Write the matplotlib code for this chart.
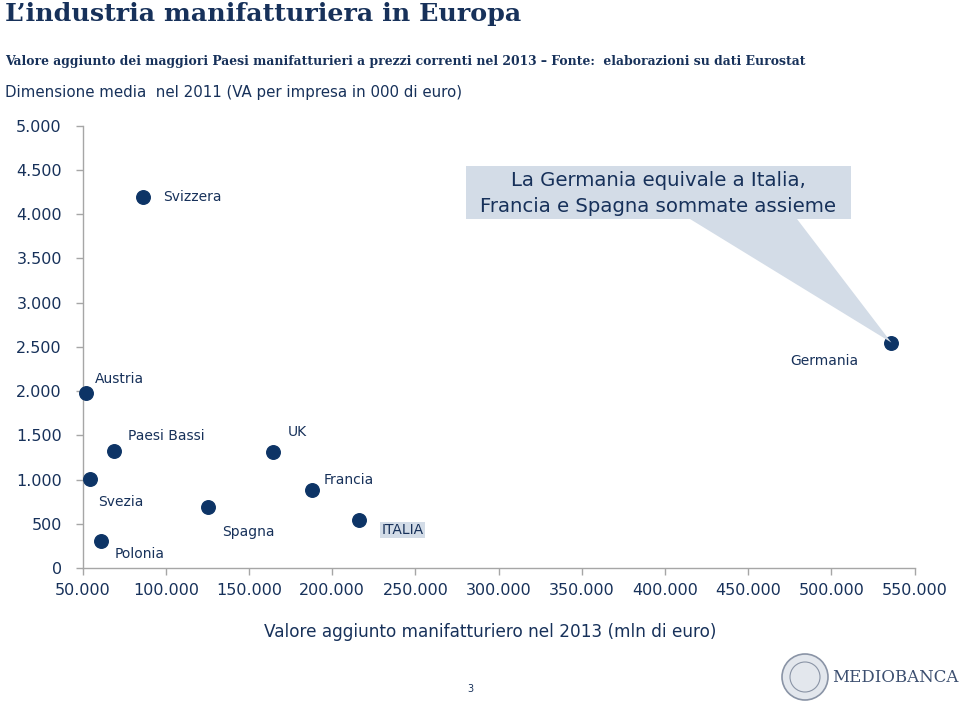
import matplotlib
matplotlib.use("Agg")
import matplotlib.pyplot as plt
from matplotlib.patches import Polygon, Rectangle, Ellipse
from matplotlib.ticker import FuncFormatter

# ---- data ----
countries = ["Svizzera", "Austria", "Germania", "Paesi Bassi", "UK", "Svezia",
             "Francia", "Spagna", "ITALIA", "Polonia"]
value_added = [86000, 51800, 536000, 69000, 164500, 54400, 187600, 125100, 216200, 61000]
avg_size = [4200, 1983, 2549, 1327, 1316, 1007, 882, 693, 543, 309]
x_ticks = [50000, 100000, 150000, 200000, 250000, 300000, 350000, 400000, 450000, 500000, 550000]
y_ticks = [0, 500, 1000, 1500, 2000, 2500, 3000, 3500, 4000, 4500, 5000]

# label offsets in pixels (dx, dy, ha)
offsets = {
    "Svizzera": (21, 0, "left"),
    "Austria": (9, 14, "left"),
    "Germania": (-67, -18, "center"),
    "Paesi Bassi": (14, 15, "left"),
    "UK": (15, 20, "left"),
    "Svezia": (8, -23, "left"),
    "Francia": (12, 10, "left"),
    "Spagna": (14, -25, "left"),
    "ITALIA": (22, -10, "left"),
    "Polonia": (14, -13, "left"),
}

NAVY = "#0d3466"
TEXT = "#17315a"
AXIS = "#a6a6a6"
CALLOUT = "#d3dce7"

fig = plt.figure(figsize=(9.6, 7.03), dpi=100)
ax = fig.add_axes([0.0861, 0.192, 0.8667, 0.6291])

ax.scatter(value_added, avg_size, s=95, color=NAVY, zorder=5, clip_on=False)

ax.set_xlim(50000, 550000)
ax.set_ylim(0, 5000)
ax.set_xticks(x_ticks)
ax.set_yticks(y_ticks)
fmt = FuncFormatter(lambda v, p: f"{int(v):,}".replace(",", "."))
ax.xaxis.set_major_formatter(fmt)
ax.yaxis.set_major_formatter(fmt)
for s in ["top", "right"]:
    ax.spines[s].set_visible(False)
for s in ["left", "bottom"]:
    ax.spines[s].set_color(AXIS)
    ax.spines[s].set_linewidth(1.0)
ax.tick_params(axis="both", colors=AXIS, length=5, width=1.0, labelcolor=TEXT, labelsize=11.5)
ax.tick_params(axis="y", pad=10)
ax.tick_params(axis="x", pad=6)

for name, x, y in zip(countries, value_added, avg_size):
    dx, dy, ha = offsets[name]
    bbox = None
    if name == "ITALIA":
        bbox = dict(boxstyle="square,pad=0.1", fc=CALLOUT, ec="none")
    ax.annotate(name, (x, y), xytext=(dx, dy), textcoords="offset pixels",
                ha=ha, va="center", fontsize=10, color=TEXT, bbox=bbox, zorder=6)

# callout box with pointer to Germania
W, H = 960, 703
def fx(px):
    return px / W
def fy(py):
    return 1 - py / H

gx, gy = value_added[2], avg_size[2]
disp = ax.transData.transform((gx, gy))
tip = fig.transFigure.inverted().transform(disp)
tri = Polygon([(fx(690), fy(219)), (fx(797), fy(219)), (tip[0], tip[1])],
              closed=True, transform=fig.transFigure, fc=CALLOUT, ec="none", zorder=1)
fig.patches.append(tri)
rect = Rectangle((fx(465.5), fy(219)), fx(851) - fx(465.5), fy(166) - fy(219),
                 transform=fig.transFigure, fc=CALLOUT, ec="none", zorder=1)
fig.patches.append(rect)
fig.text(fx(658), fy(180), "La Germania equivale a Italia,", ha="center", va="center",
         fontsize=14.2, color=TEXT)
fig.text(fx(658), fy(206), "Francia e Spagna sommate assieme", ha="center", va="center",
         fontsize=14.2, color=TEXT)

# titles
fig.text(fx(5), fy(14), "L\u2019industria manifatturiera in Europa", ha="left", va="center",
         fontsize=18.3, fontweight="bold", family="DejaVu Serif", color=TEXT)
fig.text(fx(5), fy(61), "Valore aggiunto dei maggiori Paesi manifatturieri a prezzi correnti nel 2013 \u2013 Fonte:  elaborazioni su dati Eurostat",
         ha="left", va="center", fontsize=8.9, fontweight="bold", family="DejaVu Serif", color=TEXT)
fig.text(fx(5), fy(92), "Dimensione media  nel 2011 (VA per impresa in 000 di euro)",
         ha="left", va="center", fontsize=10.8, color=TEXT)

# x-axis title
fig.text(fx(490), fy(632), "Valore aggiunto manifatturiero nel 2013 (mln di euro)",
         ha="center", va="center", fontsize=12.2, color=TEXT)

# page number and logo
fig.text(fx(470), fy(689), "3", ha="center", va="center", fontsize=7, color=TEXT)
seal = Ellipse((fx(805), fy(677)), 46 / W, 46 / H, transform=fig.transFigure, fc="#e3e7ed",
               ec="#8a94a6", lw=1.2)
fig.patches.append(seal)
seal2 = Ellipse((fx(805), fy(677)), 30 / W, 30 / H, transform=fig.transFigure, fc="none",
                ec="#8a94a6", lw=0.8)
fig.patches.append(seal2)
fig.text(fx(895), fy(677), "MEDIOBANCA", ha="center", va="center", fontsize=12,
         family="DejaVu Serif", color="#3c4f70")

fig.savefig("out.png", dpi=100)
